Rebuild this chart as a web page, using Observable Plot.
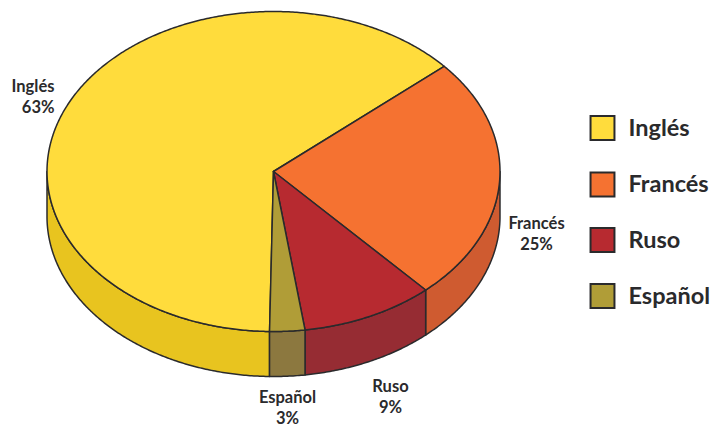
<!DOCTYPE html>
<html><head><meta charset="utf-8">
<style>html,body{margin:0;padding:0;background:#fff}svg{display:block}</style>
<script src="https://cdn.jsdelivr.net/npm/d3@7"></script>
<script src="https://cdn.jsdelivr.net/npm/@observablehq/plot@0.6"></script>
</head><body><div id="chart"></div>
<script>
const categories = ["Inglés", "Francés", "Ruso", "Español"];
const shares = [63, 25, 9, 3];            // as printed on the labels
const drawnShares = [63.3, 24.7, 9.5, 2.5]; // slice sizes as drawn in the picture
const topColors = ["#FFDC3C", "#F57231", "#B72A30", "#B09D37"];
const wallColors = ["#E8C41F", "#CF5B30", "#962C33", "#8C783F"];

// layout (pixels)
const W = 714, H = 426, cx = 273, cy = 171, rx = 226.5, ry = 160, depth = 45;
const FONT = "Lato, 'Open Sans', sans-serif", INK = "#2a2a2c";
const labelPos = [
  {x: 54, y: 95.5, anchor: "end"},
  {x: 536, y: 232.5, anchor: "middle"},
  {x: 390, y: 395.5, anchor: "middle"},
  {x: 287, y: 406.5, anchor: "middle"}
];
const legendY = [127.5, 184, 239.5, 295.5];
const legendSwatchX = 602, legendTextX = 628;

const ux = p => (p - cx) / rx, uy = p => (cy - p) / ry;
const rad = d => d * Math.PI / 180, TAU = Math.PI * 2;

const arcs = d3.pie().sort(null).startAngle(rad(181)).endAngle(rad(181) + TAU)(drawnShares);
const pt = (a, drop = 0) => ({x: Math.sin(a), y: Math.cos(a) - drop / ry});
const sweep = (a0, a1) => {
  const n = Math.max(2, Math.ceil(Math.abs(a1 - a0) / rad(0.5)));
  return d3.range(n + 1).map(i => a0 + (a1 - a0) * i / n);
};

const tops = arcs.flatMap((s, i) => {
  const ring = [{x: 0, y: 0}, ...sweep(s.startAngle, s.endAngle).map(a => pt(a)), {x: 0, y: 0}];
  return ring.map(p => ({...p, id: categories[i], color: topColors[i]}));
});

// the visible rim is the front half of the disc (90 to 270 degrees, and again one turn on)
const walls = arcs.flatMap((s, i) => [0, TAU].flatMap(turn => {
  const a0 = Math.max(s.startAngle, rad(90) + turn), a1 = Math.min(s.endAngle, rad(270) + turn);
  if (a1 <= a0) return [];
  const as = sweep(a0, a1);
  const ring = [...as.map(a => pt(a)), ...as.slice().reverse().map(a => pt(a, depth)), pt(a0)];
  return ring.map(p => ({...p, id: categories[i] + turn, color: wallColors[i]}));
}));

const labels = categories.map((c, i) => ({
  text: `${c}\n${shares[i]}%`, x: ux(labelPos[i].x), y: uy(labelPos[i].y), anchor: labelPos[i].anchor
}));
const legend = categories.map((c, i) => ({name: c, color: topColors[i], y: uy(legendY[i])}));

const poly = data => Plot.line(data, {
  x: "x", y: "y", z: "id", fill: "color", stroke: INK, strokeWidth: 1.5,
  strokeLinejoin: "round", curve: "linear"
});

const chart = Plot.plot({
  width: W, height: H, margin: 0, style: {background: "#fff", fontFamily: FONT},
  x: {axis: null, domain: [-1, 1], range: [cx - rx, cx + rx]},
  y: {axis: null, domain: [1, -1], range: [cy - ry, cy + ry]},
  color: {type: "identity"},
  marks: [
    poly(walls),
    poly(tops),
    ...labels.map(l => Plot.text([l], {
      x: "x", y: "y", text: "text", textAnchor: l.anchor, fontSize: 16.5, fontWeight: 700,
      lineHeight: 1.27, fill: INK
    })),
    Plot.dot(legend, {
      x: () => ux(legendSwatchX), y: "y", symbol: "square", r: 13.5, fill: "color", stroke: INK, strokeWidth: 2
    }),
    Plot.text(legend, {
      x: () => ux(legendTextX), y: "y", text: "name", textAnchor: "start", fontSize: 23.5, fontWeight: 700, fill: INK
    })
  ]
});
document.getElementById("chart").append(chart);
</script></body></html>
